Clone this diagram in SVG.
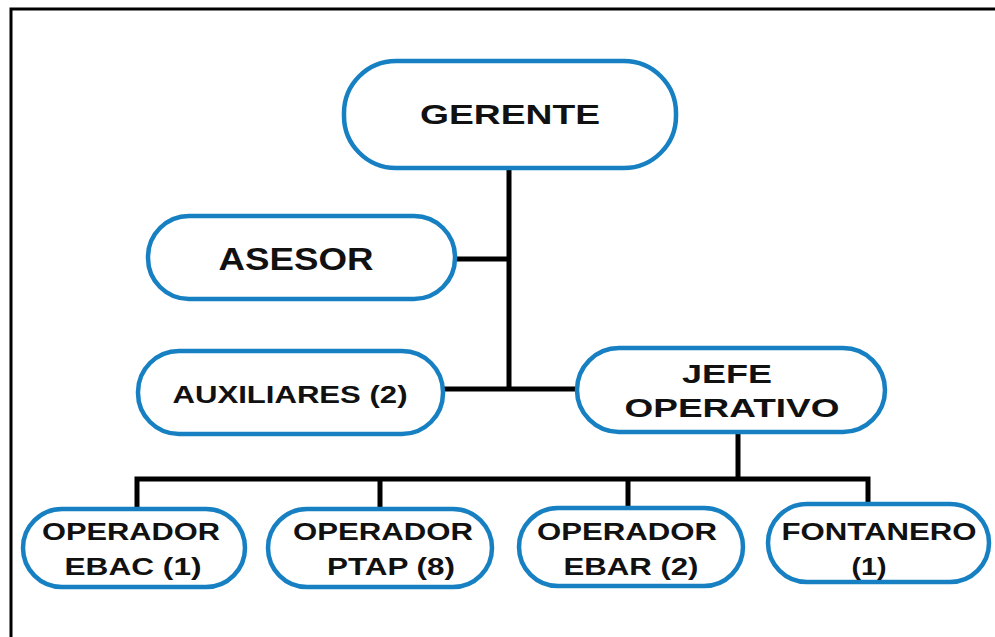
<svg xmlns="http://www.w3.org/2000/svg" width="995" height="637" viewBox="0 0 995 637">
<style>
.node{fill:#fff;stroke:#1680c2;stroke-width:4.5}
.t{font-family:"Liberation Sans",Arial,sans-serif;font-weight:bold;fill:#111;text-anchor:middle}
.c{fill:none;stroke:#000;stroke-width:5;stroke-linecap:butt}
</style>
<rect x="0" y="0" width="995" height="637" fill="#fff"/>
<path d="M11,637 V9 H995" fill="none" stroke="#000" stroke-width="3"/>
<g id="connectors">
<path class="c" d="M509,168 V390"/>
<path class="c" d="M455,259 H509"/>
<path class="c" d="M443,389 H577"/>
<path class="c" d="M738,432 V479"/>
<path class="c" d="M137,508 V479 H868 V504"/>
<path class="c" d="M380,479 V508"/>
<path class="c" d="M628,479 V507"/>
</g>
<g id="gerente">
<rect class="node" x="344" y="61" width="332" height="107" rx="52"/>
<text class="t" x="510" y="124" font-size="28" textLength="180" lengthAdjust="spacingAndGlyphs">GERENTE</text>
</g>
<g id="asesor">
<rect class="node" x="148" y="216" width="307" height="83" rx="41"/>
<text class="t" x="296" y="270" font-size="31" textLength="155" lengthAdjust="spacingAndGlyphs">ASESOR</text>
</g>
<g id="auxiliares">
<rect class="node" x="138" y="351" width="305" height="83" rx="41"/>
<text class="t" x="290" y="403" font-size="23" textLength="235" lengthAdjust="spacingAndGlyphs">AUXILIARES (2)</text>
</g>
<g id="jefe">
<rect class="node" x="577" y="348" width="308" height="84" rx="42"/>
<text class="t" x="727" y="383" font-size="26" textLength="90" lengthAdjust="spacingAndGlyphs">JEFE</text>
<text class="t" x="732" y="417" font-size="26" textLength="215" lengthAdjust="spacingAndGlyphs">OPERATIVO</text>
</g>
<g id="ebac">
<rect class="node" x="23" y="509" width="222" height="78" rx="39"/>
<text class="t" x="131" y="540" font-size="23" textLength="178" lengthAdjust="spacingAndGlyphs">OPERADOR</text>
<text class="t" x="133" y="575" font-size="23" textLength="137" lengthAdjust="spacingAndGlyphs">EBAC (1)</text>
</g>
<g id="ptap">
<rect class="node" x="268" y="509" width="224" height="78" rx="39"/>
<text class="t" x="383" y="540" font-size="23" textLength="180" lengthAdjust="spacingAndGlyphs">OPERADOR</text>
<text class="t" x="391" y="575" font-size="23" textLength="128" lengthAdjust="spacingAndGlyphs">PTAP (8)</text>
</g>
<g id="ebar">
<rect class="node" x="519" y="508" width="224" height="78" rx="39"/>
<text class="t" x="627" y="540" font-size="23" textLength="180" lengthAdjust="spacingAndGlyphs">OPERADOR</text>
<text class="t" x="631" y="575" font-size="23" textLength="135" lengthAdjust="spacingAndGlyphs">EBAR (2)</text>
</g>
<g id="fontanero">
<rect class="node" x="768" y="504" width="221" height="78" rx="39"/>
<text class="t" x="879" y="540" font-size="23" textLength="195" lengthAdjust="spacingAndGlyphs">FONTANERO</text>
<text class="t" x="869" y="575" font-size="23" textLength="35" lengthAdjust="spacingAndGlyphs">(1)</text>
</g>
</svg>
